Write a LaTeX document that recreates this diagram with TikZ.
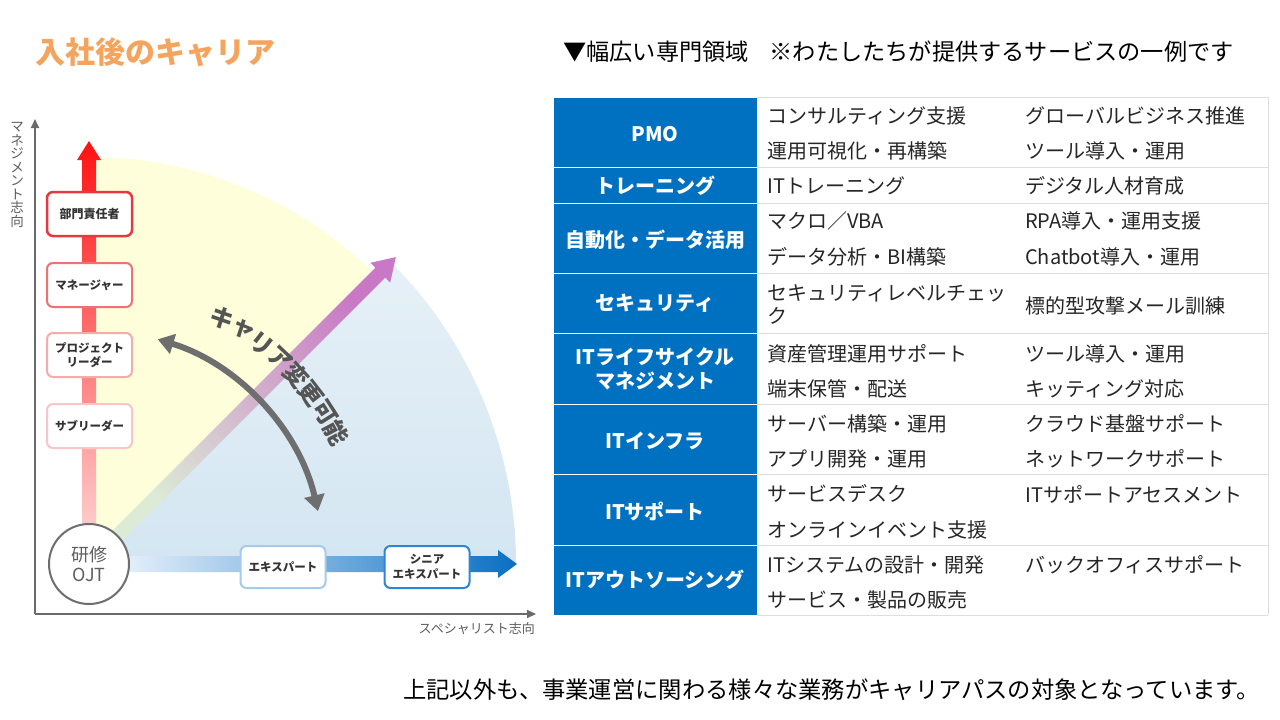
\documentclass[tikz,border=0pt]{standalone}
\usepackage{fontspec}
\setmainfont{Noto Sans CJK JP}
\usetikzlibrary{arrows.meta,calc}
\definecolor{tblue}{HTML}{0070C0}
\definecolor{txt}{HTML}{262626}
\definecolor{ttl}{HTML}{F5A45E}
\definecolor{axgray}{HTML}{6A6A6A}
\definecolor{lbl}{HTML}{5E5E5E}
\definecolor{gridc}{HTML}{DEDEDE}
\definecolor{ylw}{HTML}{FEFEDB}
\definecolor{bluetop}{HTML}{E6F0F7}
\definecolor{bluebot}{HTML}{D4E6F2}
\definecolor{redtop}{HTML}{FF1212}
\definecolor{redbot}{HTML}{FFCACA}
\definecolor{diagtop}{HTML}{C878C4}
\definecolor{diagbot}{HTML}{DCEBD6}
\definecolor{hleft}{HTML}{E4EFFA}
\definecolor{hright}{HTML}{0A6FC2}
\definecolor{bA}{HTML}{E43A3F}
\definecolor{bB}{HTML}{EE7272}
\definecolor{bC}{HTML}{F6AAAA}
\definecolor{bD}{HTML}{F8C6C6}
\definecolor{bE}{HTML}{A6CAEA}
\definecolor{bF}{HTML}{2E86D0}
\definecolor{boxtxt}{HTML}{333333}
\definecolor{arcgray}{HTML}{6E6E6E}
\definecolor{arctxt}{HTML}{555555}
\tikzset{
  item/.style={anchor=west, inner sep=0pt, text=txt, font=\fontsize{20}{24}\selectfont},
  hdr/.style={text=white, inner sep=0pt, align=center, font=\fontsize{20}{24}\selectfont\bfseries},
  hcell/.style={fill=tblue, draw=white, line width=1pt},
  lbox/.style={draw, line width=2pt, rounded corners=6pt, fill=white, minimum width=85pt, minimum height=44pt, inner sep=0pt, align=center, text=boxtxt, font=\fontsize{11.5}{14.5}\selectfont\bfseries},
  axisline/.style={draw=axgray, line width=2pt, -{Triangle[width=8pt,length=9pt]}},
  arctext/.style={text=arctxt, inner sep=0pt, font=\fontsize{24}{24}\selectfont\bfseries},
}
\begin{document}
\begin{tikzpicture}[x=1pt,y=1pt]
\useasboundingbox (0,0) rectangle (1280,-720);
\fill[white] (0,0) rectangle (1280,-720);

% ---------- titles ----------
\node[anchor=west, inner sep=0pt, text=ttl, font=\fontsize{30}{30}\selectfont\bfseries] (title) at (35,-52) {入社後のキャリア};
\node[anchor=west, inner sep=0pt, text=black, font=\fontsize{23.2}{24}\selectfont] (head) at (563,-52) {▼幅広い専門領域\hspace{0.9em}※わたしたちが提供するサービスの一例です};
\node[anchor=west, inner sep=0pt, text=black, font=\fontsize{23.3}{24}\selectfont] (foot) at (403,-690) {上記以外も、事業運営に関わる様々な業務がキャリアパスの対象となっています。};

% ---------- left diagram ----------
\coordinate (O) at (89,-564);
\fill[ylw] (O) -- (89,-157) arc[start angle=90, end angle=45, radius=407] -- cycle;
\shade[top color=bluetop, bottom color=bluebot] (O) -- ($(O)+(45:427)$) arc[start angle=45, end angle=0, radius=427] -- cycle;

% axes
\coordinate (ax0) at (35,-614);
\coordinate (axT) at (35,-119);
\coordinate (axR) at (536,-614);
\draw[axisline] (ax0) -- (axT);
\draw[axisline] (ax0) -- (axR);
\node[inner sep=0pt, align=center, text=lbl, font=\fontsize{13.5}{13.5}\selectfont] (vlab) at (17,-175) {マ\\ネ\\ジ\\メ\\ン\\ト\\志\\向};
\node[anchor=east, inner sep=0pt, text=lbl, font=\fontsize{13}{13}\selectfont] (hlab) at (535,-629) {スペシャリスト志向};

% diagonal arrow
\shade[top color=diagtop, bottom color=diagbot, shading angle=-45]
  ($(O)+(45:40)+(135:7)$) -- ($(O)+(45:412)+(135:7)$) -- ($(O)+(45:412)+(135:14)$) -- ($(O)+(45:434)$)
  -- ($(O)+(45:412)+(-45:14)$) -- ($(O)+(45:412)+(-45:7)$) -- ($(O)+(45:40)+(-45:7)$) -- cycle;

% red vertical arrow
\shade[top color=redtop, bottom color=redbot]
  (82,-525) -- (82,-160) -- (77,-160) -- (89,-141) -- (101,-160) -- (96,-160) -- (96,-525) -- cycle;

% blue horizontal arrow
\shade[left color=hleft, right color=hright]
  (125,-556) -- (498,-556) -- (498,-550) -- (517,-564) -- (498,-578) -- (498,-572) -- (125,-572) -- cycle;

% boxes
\node[lbox, draw=bA, line width=2.5pt, font=\fontsize{12}{14.5}\selectfont\bfseries] (b1) at (89.5,-214) {部門責任者};
\node[lbox, draw=bB] (b2) at (89.5,-285) {マネージャー};
\node[lbox, draw=bC] (b3) at (89.5,-355) {プロジェクト\\リーダー};
\node[lbox, draw=bD] (b4) at (89.5,-426) {サブリーダー};
\node[lbox, draw=bE, minimum height=42pt] (b5) at (283,-567) {エキスパート};
\node[lbox, draw=bF, minimum height=42pt] (b6) at (427,-567) {シニア\\エキスパート};

% OJT circle
\node[circle, draw=arcgray, line width=2pt, fill=white, minimum size=80pt, inner sep=0pt, align=center, text=lbl, font=\fontsize{18}{20}\selectfont] (ojt) at (O) {研修\\OJT};

% curved arrow
\coordinate (cs) at ($(O)+(73:235)$);
\draw[draw=arcgray, line width=6pt, {Triangle[width=20pt,length=16pt]}-{Triangle[width=20pt,length=16pt]}] (cs) arc[start angle=73, end angle=13, radius=235];

% text along arc
\foreach \c [count=\i from 0] in {キ,ャ,リ,ア,変,更,可,能} {
  \node[arctext, rotate={61.5-\i*4.8-90}] (k\i) at ($(O)+({61.5-\i*4.8}:280)$) {\c};
}

% ---------- table ----------
\draw[hcell] (553,-97) rectangle (757,-167);
\draw[hcell] (553,-167) rectangle (757,-203);
\draw[hcell] (553,-203) rectangle (757,-273);
\draw[hcell] (553,-273) rectangle (757,-333);
\draw[hcell] (553,-333) rectangle (757,-404);
\draw[hcell] (553,-404) rectangle (757,-474);
\draw[hcell] (553,-474) rectangle (757,-545);
\draw[hcell] (553,-545) rectangle (757,-615);
\foreach \yy in {97,167,203,273,333,404,474,545,615} {
  \draw[gridc, line width=1pt] (757,-\yy) -- (1268,-\yy);
}
\draw[gridc, line width=1pt] (1268,-97) -- (1268,-615);

\node[hdr] (h1) at (655,-134) {PMO};
\node[hdr] (h2) at (655,-186) {トレーニング};
\node[hdr] (h3) at (655,-240) {自動化・データ活用};
\node[hdr] (h4) at (655,-303) {セキュリティ};
\node[hdr] (h5) at (655,-369) {ITライフサイクル\\マネジメント};
\node[hdr] (h6) at (655,-441) {ITインフラ};
\node[hdr] (h7) at (655,-511) {ITサポート};
\node[hdr] (h8) at (655,-580) {ITアウトソーシング};

\node[item] (a1) at (767,-116) {コンサルティング支援};
\node[item] (a2) at (767,-151) {運用可視化・再構築};
\node[item] (a3) at (767,-186) {ITトレーニング};
\node[item] (a4) at (767,-221) {マクロ／VBA};
\node[item] (a5) at (767,-257) {データ分析・BI構築};
\node[item] (a6) at (767,-293) {セキュリティレベルチェッ};
\node[item] (a7) at (767,-316) {ク};
\node[item] (a8) at (767,-354) {資産管理運用サポート};
\node[item] (a9) at (767,-389) {端末保管・配送};
\node[item] (a10) at (767,-424) {サーバー構築・運用};
\node[item] (a11) at (767,-459) {アプリ開発・運用};
\node[item] (a12) at (767,-494) {サービスデスク};
\node[item] (a13) at (767,-530) {オンラインイベント支援};
\node[item] (a14) at (767,-565) {ITシステムの設計・開発};
\node[item] (a15) at (767,-600) {サービス・製品の販売};

\node[item] (e1) at (1025,-116) {グローバルビジネス推進};
\node[item] (e2) at (1025,-151) {ツール導入・運用};
\node[item] (e3) at (1025,-186) {デジタル人材育成};
\node[item] (e4) at (1025,-221) {RPA導入・運用支援};
\node[item] (e5) at (1025,-257) {Chatbot導入・運用};
\node[item] (e6) at (1025,-306) {標的型攻撃メール訓練};
\node[item] (e7) at (1025,-354) {ツール導入・運用};
\node[item] (e8) at (1025,-389) {キッティング対応};
\node[item] (e9) at (1025,-424) {クラウド基盤サポート};
\node[item] (e10) at (1025,-459) {ネットワークサポート};
\node[item] (e11) at (1025,-494) {ITサポートアセスメント};
\node[item] (e12) at (1025,-565) {バックオフィスサポート};
\end{tikzpicture}
\end{document}
